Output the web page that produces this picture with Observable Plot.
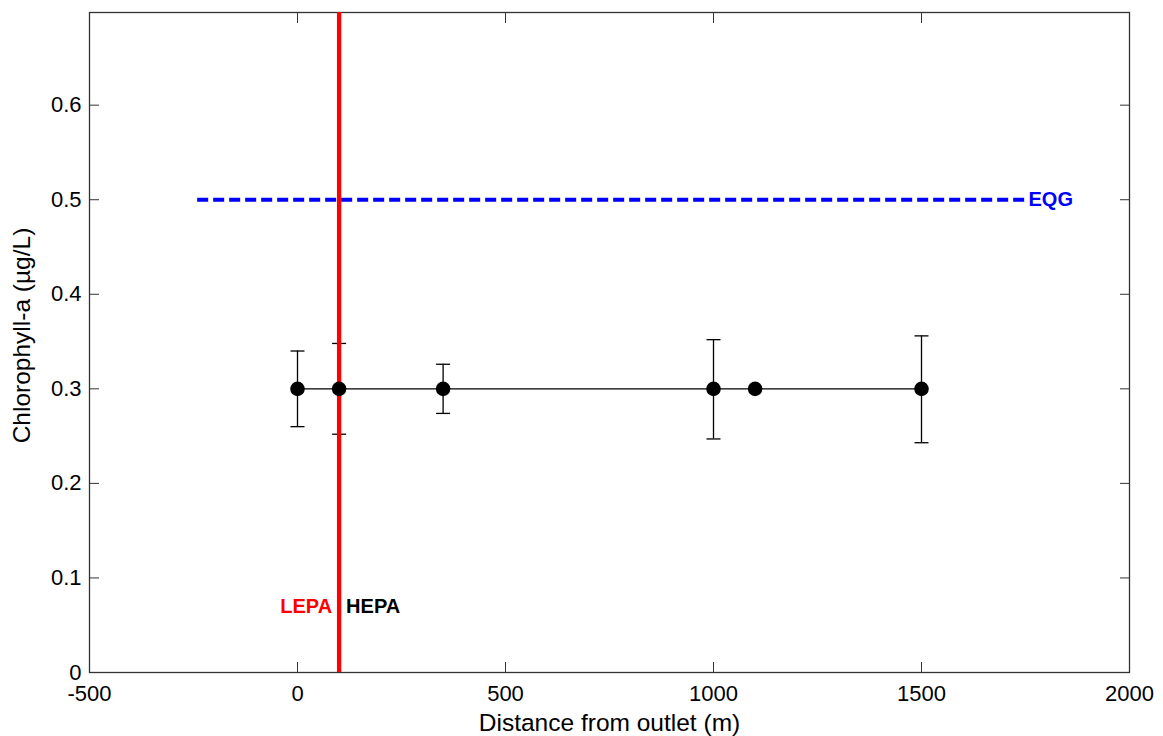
<!DOCTYPE html>
<html><head><meta charset="utf-8">
<script src="https://cdn.jsdelivr.net/npm/d3@7"></script>
<script src="https://cdn.jsdelivr.net/npm/@observablehq/plot@0.6"></script>
<style>body{margin:0;background:#fff;} svg{display:block;}</style>
</head><body><div id="chart"></div>
<script>
// Data
const distance = [0, 100, 350, 1000, 1100, 1500];
const chlorophyll = [0.3, 0.3, 0.3, 0.3, 0.3, 0.3];
const errLow  = [0.26, 0.252, 0.274, 0.247, null, 0.243];
const errHigh = [0.34, 0.348, 0.326, 0.352, null, 0.356];

const eqgLevel = 0.5;
const eqgRange = [-240, 1750];
const outletBoundary = 100;

const xTicks = [-500, 0, 500, 1000, 1500, 2000];
const yTicks = [0, 0.1, 0.2, 0.3, 0.4, 0.5, 0.6];
const xLabel = "Distance from outlet (m)";
const yLabel = "Chlorophyll-a (µg/L)";

const points = distance.map((x, i) => ({x, y: chlorophyll[i], lo: errLow[i], hi: errHigh[i]}));
const bars = points.filter(d => d.lo != null);

const capSymbol = {
  draw(ctx, size) {
    const r = Math.sqrt(size / Math.PI);
    ctx.moveTo(-r, 0); ctx.lineTo(r, 0);
  }
};

const font = "'Liberation Sans', Arial, Helvetica, sans-serif";
const fmtY = d => String(+d.toFixed(1));

const chart = Plot.plot({
  width: 1163, height: 736,
  marginLeft: 89, marginRight: 34, marginTop: 12, marginBottom: 64,
  style: {fontFamily: font, fontSize: "23px", color: "#000", background: "#fff", overflow: "visible"},
  x: {domain: [-500, 2000]},
  y: {domain: [0, 0.698]},
  marks: [
    Plot.axisX(xTicks, {anchor: "bottom", tickSize: -10, tickPadding: 23, tickFormat: d => String(d),
      stroke: "#333", fill: "#000", label: null, fontSize: 22}),
    Plot.axisX(xTicks, {anchor: "top", tickSize: -10, tickFormat: () => "", stroke: "#333", label: null}),
    Plot.axisY(yTicks, {anchor: "left", tickSize: -10, tickPadding: 18, tickFormat: fmtY,
      stroke: "#333", fill: "#000", label: null, fontSize: 22}),
    Plot.axisY(yTicks, {anchor: "right", tickSize: -10, tickFormat: () => "", stroke: "#333", label: null}),
    Plot.text([xLabel], {frameAnchor: "bottom", text: d => d, textAnchor: "middle", lineAnchor: "middle",
      dy: 51, fontSize: 24.5, fill: "#000"}),
    Plot.text([yLabel], {frameAnchor: "left", text: d => d, textAnchor: "middle", lineAnchor: "middle",
      rotate: -90, dx: -67, dy: -7, fontSize: 24.5, fill: "#000"}),
    Plot.frame({stroke: "#333", strokeWidth: 1.3}),
    // EQG dashed line
    Plot.ruleY([eqgLevel], {x1: eqgRange[0], x2: eqgRange[1], stroke: "#0000ff", strokeWidth: 4, strokeDasharray: "11,5"}),
    Plot.text([{x: eqgRange[1], y: eqgLevel}], {x: "x", y: "y", text: () => "EQG", textAnchor: "start", dx: 3,
      fill: "#0000ff", fontWeight: "bold", fontSize: 20}),
    // series
    Plot.line(points, {x: "x", y: "y", stroke: "#000", strokeWidth: 1.3}),
    Plot.ruleX(bars, {x: "x", y1: "lo", y2: "hi", stroke: "#000", strokeWidth: 1.3}),
    Plot.dot(bars, {x: "x", y: "lo", symbol: capSymbol, r: 7, stroke: "#000", strokeWidth: 1.3, fill: "none"}),
    Plot.dot(bars, {x: "x", y: "hi", symbol: capSymbol, r: 7, stroke: "#000", strokeWidth: 1.3, fill: "none"}),
    // boundary line
    Plot.ruleX([outletBoundary], {stroke: "#ff0000", strokeWidth: 4.3}),
    Plot.dot(points, {x: "x", y: "y", r: 7.3, fill: "#000", stroke: "none"}),
    Plot.text([{x: outletBoundary, y: 0.07}], {x: "x", y: "y", text: () => "LEPA", textAnchor: "end", dx: -7,
      fill: "#ff0000", fontWeight: "bold", fontSize: 20}),
    Plot.text([{x: outletBoundary, y: 0.07}], {x: "x", y: "y", text: () => "HEPA", textAnchor: "start", dx: 7,
      fill: "#000", fontWeight: "bold", fontSize: 20})
  ]
});
document.getElementById("chart").appendChild(chart);
</script>
</body></html>
